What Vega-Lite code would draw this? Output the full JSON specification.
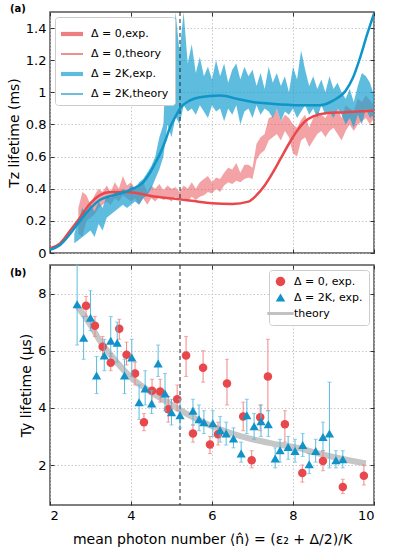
{
"$schema": "https://vega.github.io/schema/vega-lite/v6.json",
"padding": {"left": 6, "top": 2, "right": 4, "bottom": 4},
"background": "white",
"config": {
  "font": "DejaVu Sans",
  "view": {"stroke": "#555555", "strokeWidth": 1.5},
  "axis": {"labelFont": "DejaVu Sans", "labelFontSize": 13, "labelColor": "#000000", "titleFont": "DejaVu Sans", "titleFontSize": 14, "titleFontWeight": "normal", "titleColor": "#000000", "tickColor": "#333333", "tickSize": -4, "tickWidth": 1, "domain": false, "gridColor": "#bbbbbb", "gridDash": [1.5, 2], "gridWidth": 0.8, "labelPadding": 8, "titlePadding": 4},
  "legend": {"labelFont": "DejaVu Sans", "labelFontSize": 11, "labelColor": "#000000"}
},
"datasets": {
  "vline": [{"x": 5.21}],
  "bandR": [
    {"x":2.7,"lo":0.12,"hi":0.28,"s":"Δ = 0,exp."},{"x":2.8,"lo":0.10,"hi":0.38,"s":"Δ = 0,exp."},{"x":2.9,"lo":0.20,"hi":0.36,"s":"Δ = 0,exp."},{"x":3.0,"lo":0.22,"hi":0.30,"s":"Δ = 0,exp."},{"x":3.1,"lo":0.24,"hi":0.36,"s":"Δ = 0,exp."},{"x":3.2,"lo":0.28,"hi":0.40,"s":"Δ = 0,exp."},{"x":3.3,"lo":0.30,"hi":0.38,"s":"Δ = 0,exp."},{"x":3.4,"lo":0.32,"hi":0.42,"s":"Δ = 0,exp."},{"x":3.5,"lo":0.30,"hi":0.38,"s":"Δ = 0,exp."},{"x":3.6,"lo":0.34,"hi":0.44,"s":"Δ = 0,exp."},{"x":3.7,"lo":0.32,"hi":0.40,"s":"Δ = 0,exp."},{"x":3.8,"lo":0.36,"hi":0.48,"s":"Δ = 0,exp."},{"x":3.9,"lo":0.34,"hi":0.42,"s":"Δ = 0,exp."},{"x":4.0,"lo":0.32,"hi":0.44,"s":"Δ = 0,exp."},{"x":4.1,"lo":0.34,"hi":0.40,"s":"Δ = 0,exp."},{"x":4.2,"lo":0.30,"hi":0.42,"s":"Δ = 0,exp."},{"x":4.3,"lo":0.34,"hi":0.44,"s":"Δ = 0,exp."},{"x":4.4,"lo":0.30,"hi":0.38,"s":"Δ = 0,exp."},{"x":4.5,"lo":0.34,"hi":0.42,"s":"Δ = 0,exp."},{"x":4.6,"lo":0.32,"hi":0.40,"s":"Δ = 0,exp."},{"x":4.7,"lo":0.35,"hi":0.43,"s":"Δ = 0,exp."},{"x":4.8,"lo":0.33,"hi":0.39,"s":"Δ = 0,exp."},{"x":4.9,"lo":0.34,"hi":0.42,"s":"Δ = 0,exp."},{"x":5.0,"lo":0.32,"hi":0.40,"s":"Δ = 0,exp."},{"x":5.1,"lo":0.35,"hi":0.41,"s":"Δ = 0,exp."},{"x":5.2,"lo":0.33,"hi":0.38,"s":"Δ = 0,exp."},{"x":5.3,"lo":0.34,"hi":0.42,"s":"Δ = 0,exp."},{"x":5.4,"lo":0.32,"hi":0.40,"s":"Δ = 0,exp."},{"x":5.5,"lo":0.35,"hi":0.44,"s":"Δ = 0,exp."},{"x":5.6,"lo":0.33,"hi":0.40,"s":"Δ = 0,exp."},{"x":5.7,"lo":0.35,"hi":0.44,"s":"Δ = 0,exp."},{"x":5.8,"lo":0.36,"hi":0.46,"s":"Δ = 0,exp."},{"x":5.9,"lo":0.38,"hi":0.48,"s":"Δ = 0,exp."},{"x":6.0,"lo":0.37,"hi":0.44,"s":"Δ = 0,exp."},{"x":6.1,"lo":0.40,"hi":0.47,"s":"Δ = 0,exp."},{"x":6.2,"lo":0.38,"hi":0.46,"s":"Δ = 0,exp."},{"x":6.3,"lo":0.42,"hi":0.50,"s":"Δ = 0,exp."},{"x":6.4,"lo":0.44,"hi":0.53,"s":"Δ = 0,exp."},{"x":6.5,"lo":0.43,"hi":0.52,"s":"Δ = 0,exp."},{"x":6.6,"lo":0.45,"hi":0.56,"s":"Δ = 0,exp."},{"x":6.7,"lo":0.44,"hi":0.50,"s":"Δ = 0,exp."},{"x":6.8,"lo":0.46,"hi":0.55,"s":"Δ = 0,exp."},{"x":6.9,"lo":0.47,"hi":0.55,"s":"Δ = 0,exp."},{"x":7.0,"lo":0.46,"hi":0.53,"s":"Δ = 0,exp."},{"x":7.1,"lo":0.58,"hi":0.68,"s":"Δ = 0,exp."},{"x":7.2,"lo":0.62,"hi":0.72,"s":"Δ = 0,exp."},{"x":7.3,"lo":0.64,"hi":0.74,"s":"Δ = 0,exp."},{"x":7.4,"lo":0.70,"hi":0.84,"s":"Δ = 0,exp."},{"x":7.5,"lo":0.72,"hi":0.85,"s":"Δ = 0,exp."},{"x":7.6,"lo":0.74,"hi":0.90,"s":"Δ = 0,exp."},{"x":7.7,"lo":0.70,"hi":0.82,"s":"Δ = 0,exp."},{"x":7.8,"lo":0.76,"hi":0.86,"s":"Δ = 0,exp."},{"x":7.9,"lo":0.72,"hi":0.84,"s":"Δ = 0,exp."},{"x":8.0,"lo":0.62,"hi":0.80,"s":"Δ = 0,exp."},{"x":8.1,"lo":0.60,"hi":0.78,"s":"Δ = 0,exp."},{"x":8.2,"lo":0.70,"hi":0.83,"s":"Δ = 0,exp."},{"x":8.3,"lo":0.72,"hi":0.86,"s":"Δ = 0,exp."},{"x":8.4,"lo":0.66,"hi":0.78,"s":"Δ = 0,exp."},{"x":8.5,"lo":0.70,"hi":0.84,"s":"Δ = 0,exp."},{"x":8.6,"lo":0.74,"hi":0.88,"s":"Δ = 0,exp."},{"x":8.7,"lo":0.76,"hi":0.86,"s":"Δ = 0,exp."},{"x":8.8,"lo":0.72,"hi":0.84,"s":"Δ = 0,exp."},{"x":8.9,"lo":0.76,"hi":0.88,"s":"Δ = 0,exp."},{"x":9.0,"lo":0.78,"hi":0.86,"s":"Δ = 0,exp."},{"x":9.1,"lo":0.74,"hi":0.90,"s":"Δ = 0,exp."},{"x":9.2,"lo":0.70,"hi":0.84,"s":"Δ = 0,exp."},{"x":9.3,"lo":0.76,"hi":0.92,"s":"Δ = 0,exp."},{"x":9.4,"lo":0.80,"hi":0.90,"s":"Δ = 0,exp."},{"x":9.5,"lo":0.76,"hi":0.88,"s":"Δ = 0,exp."},{"x":9.6,"lo":0.80,"hi":0.96,"s":"Δ = 0,exp."},{"x":9.7,"lo":0.82,"hi":0.94,"s":"Δ = 0,exp."},{"x":9.8,"lo":0.84,"hi":0.98,"s":"Δ = 0,exp."},{"x":9.9,"lo":0.80,"hi":0.95,"s":"Δ = 0,exp."},{"x":10.0,"lo":0.84,"hi":0.92,"s":"Δ = 0,exp."}
  ],
  "bandB": [
    {"x":2.6,"lo":0.06,"hi":0.12,"s":"Δ = 2K,exp."},{"x":2.7,"lo":0.08,"hi":0.20,"s":"Δ = 2K,exp."},{"x":2.8,"lo":0.10,"hi":0.28,"s":"Δ = 2K,exp."},{"x":2.9,"lo":0.12,"hi":0.24,"s":"Δ = 2K,exp."},{"x":3.0,"lo":0.14,"hi":0.30,"s":"Δ = 2K,exp."},{"x":3.1,"lo":0.10,"hi":0.26,"s":"Δ = 2K,exp."},{"x":3.2,"lo":0.18,"hi":0.32,"s":"Δ = 2K,exp."},{"x":3.3,"lo":0.14,"hi":0.28,"s":"Δ = 2K,exp."},{"x":3.4,"lo":0.22,"hi":0.36,"s":"Δ = 2K,exp."},{"x":3.5,"lo":0.24,"hi":0.34,"s":"Δ = 2K,exp."},{"x":3.6,"lo":0.26,"hi":0.38,"s":"Δ = 2K,exp."},{"x":3.7,"lo":0.28,"hi":0.36,"s":"Δ = 2K,exp."},{"x":3.8,"lo":0.30,"hi":0.40,"s":"Δ = 2K,exp."},{"x":3.9,"lo":0.28,"hi":0.38,"s":"Δ = 2K,exp."},{"x":4.0,"lo":0.30,"hi":0.42,"s":"Δ = 2K,exp."},{"x":4.1,"lo":0.32,"hi":0.40,"s":"Δ = 2K,exp."},{"x":4.2,"lo":0.30,"hi":0.44,"s":"Δ = 2K,exp."},{"x":4.3,"lo":0.34,"hi":0.46,"s":"Δ = 2K,exp."},{"x":4.4,"lo":0.36,"hi":0.50,"s":"Δ = 2K,exp."},{"x":4.5,"lo":0.40,"hi":0.54,"s":"Δ = 2K,exp."},{"x":4.6,"lo":0.46,"hi":0.60,"s":"Δ = 2K,exp."},{"x":4.7,"lo":0.52,"hi":0.72,"s":"Δ = 2K,exp."},{"x":4.8,"lo":0.60,"hi":0.80,"s":"Δ = 2K,exp."},{"x":4.9,"lo":0.80,"hi":1.40,"s":"Δ = 2K,exp."},{"x":5.0,"lo":0.72,"hi":1.10,"s":"Δ = 2K,exp."},{"x":5.1,"lo":0.85,"hi":1.50,"s":"Δ = 2K,exp."},{"x":5.2,"lo":0.80,"hi":1.25,"s":"Δ = 2K,exp."},{"x":5.3,"lo":0.92,"hi":1.50,"s":"Δ = 2K,exp."},{"x":5.4,"lo":0.88,"hi":1.18,"s":"Δ = 2K,exp."},{"x":5.5,"lo":0.90,"hi":1.30,"s":"Δ = 2K,exp."},{"x":5.6,"lo":0.86,"hi":1.12,"s":"Δ = 2K,exp."},{"x":5.7,"lo":0.92,"hi":1.22,"s":"Δ = 2K,exp."},{"x":5.8,"lo":0.88,"hi":1.10,"s":"Δ = 2K,exp."},{"x":5.9,"lo":0.84,"hi":1.16,"s":"Δ = 2K,exp."},{"x":6.0,"lo":0.92,"hi":1.08,"s":"Δ = 2K,exp."},{"x":6.1,"lo":0.88,"hi":1.20,"s":"Δ = 2K,exp."},{"x":6.2,"lo":0.90,"hi":1.10,"s":"Δ = 2K,exp."},{"x":6.3,"lo":0.82,"hi":1.18,"s":"Δ = 2K,exp."},{"x":6.4,"lo":0.90,"hi":1.06,"s":"Δ = 2K,exp."},{"x":6.5,"lo":0.86,"hi":1.14,"s":"Δ = 2K,exp."},{"x":6.6,"lo":0.92,"hi":1.18,"s":"Δ = 2K,exp."},{"x":6.7,"lo":0.80,"hi":1.08,"s":"Δ = 2K,exp."},{"x":6.8,"lo":0.88,"hi":1.16,"s":"Δ = 2K,exp."},{"x":6.9,"lo":0.90,"hi":1.10,"s":"Δ = 2K,exp."},{"x":7.0,"lo":0.84,"hi":1.14,"s":"Δ = 2K,exp."},{"x":7.1,"lo":0.92,"hi":1.04,"s":"Δ = 2K,exp."},{"x":7.2,"lo":0.86,"hi":1.12,"s":"Δ = 2K,exp."},{"x":7.3,"lo":0.90,"hi":1.02,"s":"Δ = 2K,exp."},{"x":7.4,"lo":0.88,"hi":1.16,"s":"Δ = 2K,exp."},{"x":7.5,"lo":0.84,"hi":1.06,"s":"Δ = 2K,exp."},{"x":7.6,"lo":0.90,"hi":1.12,"s":"Δ = 2K,exp."},{"x":7.7,"lo":0.82,"hi":1.04,"s":"Δ = 2K,exp."},{"x":7.8,"lo":0.88,"hi":1.10,"s":"Δ = 2K,exp."},{"x":7.9,"lo":0.86,"hi":1.00,"s":"Δ = 2K,exp."},{"x":8.0,"lo":0.90,"hi":1.16,"s":"Δ = 2K,exp."},{"x":8.1,"lo":0.84,"hi":1.08,"s":"Δ = 2K,exp."},{"x":8.2,"lo":0.88,"hi":1.26,"s":"Δ = 2K,exp."},{"x":8.3,"lo":0.92,"hi":1.14,"s":"Δ = 2K,exp."},{"x":8.4,"lo":0.86,"hi":1.04,"s":"Δ = 2K,exp."},{"x":8.5,"lo":0.90,"hi":1.10,"s":"Δ = 2K,exp."},{"x":8.6,"lo":0.84,"hi":1.02,"s":"Δ = 2K,exp."},{"x":8.7,"lo":0.92,"hi":1.08,"s":"Δ = 2K,exp."},{"x":8.8,"lo":0.86,"hi":1.00,"s":"Δ = 2K,exp."},{"x":8.9,"lo":0.88,"hi":1.10,"s":"Δ = 2K,exp."},{"x":9.0,"lo":0.84,"hi":1.02,"s":"Δ = 2K,exp."},{"x":9.1,"lo":0.90,"hi":1.06,"s":"Δ = 2K,exp."},{"x":9.2,"lo":0.86,"hi":1.00,"s":"Δ = 2K,exp."},{"x":9.3,"lo":0.80,"hi":0.96,"s":"Δ = 2K,exp."},{"x":9.4,"lo":0.84,"hi":1.02,"s":"Δ = 2K,exp."},{"x":9.5,"lo":0.78,"hi":0.94,"s":"Δ = 2K,exp."},{"x":9.6,"lo":0.86,"hi":1.04,"s":"Δ = 2K,exp."},{"x":9.7,"lo":0.80,"hi":1.12,"s":"Δ = 2K,exp."},{"x":9.8,"lo":0.90,"hi":1.10,"s":"Δ = 2K,exp."},{"x":9.9,"lo":0.84,"hi":1.06,"s":"Δ = 2K,exp."},{"x":10.0,"lo":0.86,"hi":0.98,"s":"Δ = 2K,exp."}
  ],
  "thTop": [
    {"x":2.0,"y":0.03,"s":"Δ = 0,theory"},{"x":2.25,"y":0.06,"s":"Δ = 0,theory"},{"x":2.5,"y":0.14,"s":"Δ = 0,theory"},{"x":2.74,"y":0.22,"s":"Δ = 0,theory"},{"x":3.0,"y":0.31,"s":"Δ = 0,theory"},{"x":3.23,"y":0.36,"s":"Δ = 0,theory"},{"x":3.5,"y":0.38,"s":"Δ = 0,theory"},{"x":3.9,"y":0.38,"s":"Δ = 0,theory"},{"x":4.2,"y":0.37,"s":"Δ = 0,theory"},{"x":4.5,"y":0.355,"s":"Δ = 0,theory"},{"x":5.0,"y":0.34,"s":"Δ = 0,theory"},{"x":5.5,"y":0.325,"s":"Δ = 0,theory"},{"x":6.0,"y":0.31,"s":"Δ = 0,theory"},{"x":6.5,"y":0.305,"s":"Δ = 0,theory"},{"x":6.9,"y":0.32,"s":"Δ = 0,theory"},{"x":7.1,"y":0.36,"s":"Δ = 0,theory"},{"x":7.3,"y":0.42,"s":"Δ = 0,theory"},{"x":7.5,"y":0.50,"s":"Δ = 0,theory"},{"x":7.7,"y":0.59,"s":"Δ = 0,theory"},{"x":7.9,"y":0.68,"s":"Δ = 0,theory"},{"x":8.1,"y":0.76,"s":"Δ = 0,theory"},{"x":8.3,"y":0.82,"s":"Δ = 0,theory"},{"x":8.5,"y":0.85,"s":"Δ = 0,theory"},{"x":8.8,"y":0.87,"s":"Δ = 0,theory"},{"x":9.2,"y":0.875,"s":"Δ = 0,theory"},{"x":9.6,"y":0.88,"s":"Δ = 0,theory"},{"x":10.0,"y":0.885,"s":"Δ = 0,theory"},
    {"x":2.0,"y":0.02,"s":"Δ = 2K,theory"},{"x":2.25,"y":0.05,"s":"Δ = 2K,theory"},{"x":2.5,"y":0.12,"s":"Δ = 2K,theory"},{"x":2.74,"y":0.20,"s":"Δ = 2K,theory"},{"x":3.0,"y":0.28,"s":"Δ = 2K,theory"},{"x":3.23,"y":0.33,"s":"Δ = 2K,theory"},{"x":3.5,"y":0.355,"s":"Δ = 2K,theory"},{"x":3.73,"y":0.37,"s":"Δ = 2K,theory"},{"x":4.05,"y":0.40,"s":"Δ = 2K,theory"},{"x":4.3,"y":0.44,"s":"Δ = 2K,theory"},{"x":4.47,"y":0.50,"s":"Δ = 2K,theory"},{"x":4.6,"y":0.56,"s":"Δ = 2K,theory"},{"x":4.72,"y":0.62,"s":"Δ = 2K,theory"},{"x":4.85,"y":0.70,"s":"Δ = 2K,theory"},{"x":4.96,"y":0.78,"s":"Δ = 2K,theory"},{"x":5.1,"y":0.85,"s":"Δ = 2K,theory"},{"x":5.21,"y":0.90,"s":"Δ = 2K,theory"},{"x":5.46,"y":0.95,"s":"Δ = 2K,theory"},{"x":5.7,"y":0.97,"s":"Δ = 2K,theory"},{"x":6.2,"y":0.98,"s":"Δ = 2K,theory"},{"x":6.69,"y":0.955,"s":"Δ = 2K,theory"},{"x":7.0,"y":0.94,"s":"Δ = 2K,theory"},{"x":7.43,"y":0.93,"s":"Δ = 2K,theory"},{"x":8.17,"y":0.92,"s":"Δ = 2K,theory"},{"x":8.67,"y":0.92,"s":"Δ = 2K,theory"},{"x":9.0,"y":0.95,"s":"Δ = 2K,theory"},{"x":9.3,"y":1.01,"s":"Δ = 2K,theory"},{"x":9.48,"y":1.09,"s":"Δ = 2K,theory"},{"x":9.65,"y":1.21,"s":"Δ = 2K,theory"},{"x":9.83,"y":1.36,"s":"Δ = 2K,theory"},{"x":10.0,"y":1.49,"s":"Δ = 2K,theory"}
  ],
  "thBot": [
    {"x":2.67,"y":7.57,"s":"theory"},{"x":3.0,"y":6.9,"s":"theory"},{"x":3.23,"y":6.35,"s":"theory"},{"x":3.5,"y":5.85,"s":"theory"},{"x":4.05,"y":5.0,"s":"theory"},{"x":4.5,"y":4.55,"s":"theory"},{"x":4.9,"y":4.2,"s":"theory"},{"x":5.3,"y":3.85,"s":"theory"},{"x":5.7,"y":3.55,"s":"theory"},{"x":6.5,"y":3.1,"s":"theory"},{"x":7.0,"y":2.9,"s":"theory"},{"x":7.5,"y":2.75,"s":"theory"},{"x":8.17,"y":2.58,"s":"theory"},{"x":8.5,"y":2.45,"s":"theory"},{"x":9.0,"y":2.28,"s":"theory"},{"x":9.5,"y":2.13,"s":"theory"},{"x":9.8,"y":2.05,"s":"theory"}
  ],
  "ptsR": [
    {"x":2.89,"y":7.57,"lo":7.2,"hi":7.9,"s":"Δ = 0, exp."},{"x":3.11,"y":6.87,"lo":6.5,"hi":7.2,"s":"Δ = 0, exp."},{"x":3.30,"y":6.14,"lo":5.8,"hi":6.5,"s":"Δ = 0, exp."},{"x":3.50,"y":5.58,"lo":5.3,"hi":5.9,"s":"Δ = 0, exp."},{"x":3.71,"y":6.77,"lo":6.4,"hi":7.1,"s":"Δ = 0, exp."},{"x":3.89,"y":5.86,"lo":5.5,"hi":6.3,"s":"Δ = 0, exp."},{"x":4.10,"y":5.20,"lo":4.8,"hi":5.6,"s":"Δ = 0, exp."},{"x":4.32,"y":3.50,"lo":3.2,"hi":3.8,"s":"Δ = 0, exp."},{"x":4.52,"y":4.60,"lo":4.2,"hi":5.0,"s":"Δ = 0, exp."},{"x":4.72,"y":4.57,"lo":4.2,"hi":5.0,"s":"Δ = 0, exp."},{"x":4.92,"y":3.95,"lo":3.5,"hi":4.4,"s":"Δ = 0, exp."},{"x":5.14,"y":4.30,"lo":3.9,"hi":4.8,"s":"Δ = 0, exp."},{"x":5.36,"y":5.83,"lo":5.1,"hi":6.5,"s":"Δ = 0, exp."},{"x":5.53,"y":3.10,"lo":2.8,"hi":3.4,"s":"Δ = 0, exp."},{"x":5.78,"y":5.40,"lo":4.9,"hi":6.0,"s":"Δ = 0, exp."},{"x":5.95,"y":2.72,"lo":2.4,"hi":3.0,"s":"Δ = 0, exp."},{"x":6.15,"y":3.08,"lo":2.7,"hi":3.5,"s":"Δ = 0, exp."},{"x":6.37,"y":4.85,"lo":4.1,"hi":5.7,"s":"Δ = 0, exp."},{"x":6.77,"y":3.70,"lo":3.2,"hi":4.2,"s":"Δ = 0, exp."},{"x":6.98,"y":2.17,"lo":1.9,"hi":2.5,"s":"Δ = 0, exp."},{"x":7.19,"y":3.67,"lo":3.2,"hi":4.1,"s":"Δ = 0, exp."},{"x":7.38,"y":5.10,"lo":3.9,"hi":6.4,"s":"Δ = 0, exp."},{"x":7.80,"y":3.43,"lo":2.8,"hi":3.9,"s":"Δ = 0, exp."},{"x":8.23,"y":1.72,"lo":1.4,"hi":2.0,"s":"Δ = 0, exp."},{"x":8.74,"y":2.14,"lo":1.8,"hi":2.5,"s":"Δ = 0, exp."},{"x":9.23,"y":1.23,"lo":1.0,"hi":1.5,"s":"Δ = 0, exp."},{"x":9.75,"y":1.62,"lo":1.3,"hi":2.0,"s":"Δ = 0, exp."}
  ],
  "ptsB": [
    {"x":2.67,"y":7.63,"lo":6.2,"hi":9.0,"s":"Δ = 2K, exp."},{"x":2.83,"y":6.45,"lo":5.7,"hi":7.2,"s":"Δ = 2K, exp."},{"x":3.00,"y":7.15,"lo":6.7,"hi":8.1,"s":"Δ = 2K, exp."},{"x":3.15,"y":5.13,"lo":4.5,"hi":5.8,"s":"Δ = 2K, exp."},{"x":3.34,"y":5.83,"lo":5.3,"hi":6.4,"s":"Δ = 2K, exp."},{"x":3.50,"y":6.35,"lo":5.8,"hi":7.2,"s":"Δ = 2K, exp."},{"x":3.66,"y":6.28,"lo":5.6,"hi":7.0,"s":"Δ = 2K, exp."},{"x":3.84,"y":5.13,"lo":4.5,"hi":5.7,"s":"Δ = 2K, exp."},{"x":4.02,"y":5.76,"lo":5.1,"hi":6.4,"s":"Δ = 2K, exp."},{"x":4.20,"y":4.20,"lo":3.6,"hi":4.8,"s":"Δ = 2K, exp."},{"x":4.35,"y":4.68,"lo":4.1,"hi":5.3,"s":"Δ = 2K, exp."},{"x":4.51,"y":4.15,"lo":3.8,"hi":4.6,"s":"Δ = 2K, exp."},{"x":4.67,"y":5.55,"lo":5.1,"hi":6.2,"s":"Δ = 2K, exp."},{"x":4.84,"y":4.50,"lo":3.9,"hi":5.2,"s":"Δ = 2K, exp."},{"x":5.00,"y":3.85,"lo":3.4,"hi":4.3,"s":"Δ = 2K, exp."},{"x":5.21,"y":3.74,"lo":3.3,"hi":4.3,"s":"Δ = 2K, exp."},{"x":5.53,"y":3.90,"lo":3.4,"hi":4.3,"s":"Δ = 2K, exp."},{"x":5.68,"y":3.60,"lo":3.2,"hi":4.1,"s":"Δ = 2K, exp."},{"x":5.80,"y":3.50,"lo":3.1,"hi":3.9,"s":"Δ = 2K, exp."},{"x":6.02,"y":3.46,"lo":3.0,"hi":3.9,"s":"Δ = 2K, exp."},{"x":6.20,"y":3.22,"lo":2.8,"hi":3.7,"s":"Δ = 2K, exp."},{"x":6.35,"y":3.10,"lo":2.7,"hi":3.5,"s":"Δ = 2K, exp."},{"x":6.53,"y":2.93,"lo":2.6,"hi":3.3,"s":"Δ = 2K, exp."},{"x":6.72,"y":2.40,"lo":2.1,"hi":2.8,"s":"Δ = 2K, exp."},{"x":6.86,"y":3.74,"lo":3.1,"hi":4.3,"s":"Δ = 2K, exp."},{"x":7.04,"y":3.36,"lo":2.9,"hi":3.8,"s":"Δ = 2K, exp."},{"x":7.21,"y":3.53,"lo":3.0,"hi":4.1,"s":"Δ = 2K, exp."},{"x":7.39,"y":3.43,"lo":3.0,"hi":3.9,"s":"Δ = 2K, exp."},{"x":7.56,"y":2.23,"lo":1.9,"hi":2.6,"s":"Δ = 2K, exp."},{"x":7.68,"y":2.52,"lo":2.1,"hi":2.9,"s":"Δ = 2K, exp."},{"x":7.88,"y":2.63,"lo":2.2,"hi":3.0,"s":"Δ = 2K, exp."},{"x":8.05,"y":2.49,"lo":2.1,"hi":2.9,"s":"Δ = 2K, exp."},{"x":8.24,"y":2.70,"lo":2.3,"hi":3.1,"s":"Δ = 2K, exp."},{"x":8.40,"y":2.03,"lo":1.7,"hi":2.4,"s":"Δ = 2K, exp."},{"x":8.56,"y":2.49,"lo":2.1,"hi":2.9,"s":"Δ = 2K, exp."},{"x":8.74,"y":2.98,"lo":2.5,"hi":3.5,"s":"Δ = 2K, exp."},{"x":8.90,"y":3.10,"lo":1.9,"hi":4.9,"s":"Δ = 2K, exp."},{"x":9.06,"y":2.17,"lo":1.9,"hi":2.5,"s":"Δ = 2K, exp."},{"x":9.23,"y":2.20,"lo":1.9,"hi":2.5,"s":"Δ = 2K, exp."}
  ]
},
"spacing": 2,
"resolve": {"scale": {"x": "independent", "y": "independent", "color": "independent"}, "legend": {"color": "independent"}},
"vconcat": [
  {
    "width": 324, "height": 241,
    "title": {"text": "(a)", "anchor": "start", "frame": "group", "dx": -40, "offset": -2, "fontSize": 10, "fontWeight": "bold", "font": "DejaVu Sans"},
    "layer": [
      {"data": {"name": "bandR"}, "mark": {"type": "area", "opacity": 0.5, "clip": true},
       "encoding": {
         "x": {"field": "x", "type": "quantitative", "scale": {"domain": [2, 10], "nice": false, "zero": false}, "axis": {"orient": "bottom", "values": [2, 4, 6, 8, 10], "labels": false, "title": null, "grid": true}},
         "y": {"field": "lo", "type": "quantitative", "scale": {"domain": [0, 1.5], "nice": false}, "axis": {"orient": "left", "values": [0, 0.2, 0.4, 0.6, 0.8, 1, 1.2, 1.4], "format": "~g", "title": "Tz lifetime (ms)", "grid": true}},
         "y2": {"field": "hi"},
         "color": {"field": "s", "type": "nominal",
           "scale": {"domain": ["Δ = 0,exp.", "Δ = 0,theory", "Δ = 2K,exp.", "Δ = 2K,theory"], "range": ["#e8474c", "#e8474c", "#1aa0d0", "#0f95c8"]},
           "legend": {"title": null, "orient": "top-left", "offset": 5, "padding": 6, "fillColor": "white", "strokeColor": "#cccccc", "cornerRadius": 3, "symbolSize": 484, "rowPadding": 4, "labelOffset": 8,
             "symbolType": {"expr": "indexof(datum.value, 'theory') >= 0 ? 'M-1,-0.08H1V0.08H-1Z' : 'M-1,-0.19H1V0.19H-1Z'"},
             "symbolOpacity": {"expr": "datum.value == 'Δ = 0,exp.' ? 0.5 : datum.value == 'Δ = 2K,exp.' ? 0.7 : 1"},
             "symbolStrokeWidth": 0}}
       }},
      {"data": {"name": "bandB"}, "mark": {"type": "area", "opacity": 0.7, "clip": true},
       "encoding": {
         "x": {"field": "x", "type": "quantitative", "axis": null},
         "y": {"field": "lo", "type": "quantitative", "axis": {"orient": "right", "values": [0, 0.2, 0.4, 0.6, 0.8, 1, 1.2, 1.4], "labels": false, "title": null, "grid": false}},
         "y2": {"field": "hi"},
         "color": {"field": "s", "type": "nominal"}
       }},
      {"data": {"name": "vline"}, "mark": {"type": "rule", "strokeDash": [4, 3], "color": "#222222", "strokeWidth": 1},
       "encoding": {"x": {"field": "x", "type": "quantitative", "axis": {"orient": "top", "values": [2, 4, 6, 8, 10], "labels": false, "title": null, "grid": false}}}},
      {"data": {"name": "thTop"}, "mark": {"type": "line", "strokeWidth": 2.5, "clip": true, "interpolate": "monotone"},
       "encoding": {
         "x": {"field": "x", "type": "quantitative", "axis": null},
         "y": {"field": "y", "type": "quantitative", "axis": null},
         "color": {"field": "s", "type": "nominal"}
       }}
    ]
  },
  {
    "width": 324, "height": 240,
    "title": {"text": "(b)", "anchor": "start", "frame": "group", "dx": -40, "offset": -13, "fontSize": 10, "fontWeight": "bold", "font": "DejaVu Sans"},
    "layer": [
      {"data": {"name": "thBot"}, "mark": {"type": "line", "strokeWidth": 6, "opacity": 0.9, "interpolate": "monotone"},
       "encoding": {
         "x": {"field": "x", "type": "quantitative", "scale": {"domain": [2, 10], "nice": false, "zero": false}, "axis": {"orient": "bottom", "values": [2, 4, 6, 8, 10], "title": "mean photon number ⟨n̂⟩ = (ε₂ + Δ/2)/K", "grid": true, "titlePadding": 10}},
         "y": {"field": "y", "type": "quantitative", "scale": {"domain": [0.6, 9], "nice": false, "zero": false}, "axis": {"orient": "left", "values": [2, 4, 6, 8], "title": "Ty lifetime (μs)", "grid": true}},
         "color": {"field": "s", "type": "nominal",
           "scale": {"domain": ["Δ = 0, exp.", "Δ = 2K, exp.", "theory"], "range": ["#e8474c", "#1192c8", "#c0c0c0"]},
           "legend": {"title": null, "orient": "top-right", "offset": 5, "padding": 6, "fillColor": "white", "strokeColor": "#cccccc", "cornerRadius": 3, "rowPadding": 4, "labelOffset": 8,
             "symbolType": {"expr": "datum.value == 'theory' ? 'M-1,-0.11H1V0.11H-1Z' : datum.value == 'Δ = 0, exp.' ? 'circle' : 'triangle-up'"},
             "symbolSize": {"expr": "datum.value == 'theory' ? 700 : 90"},
             "symbolOpacity": 1,
             "symbolStrokeWidth": 0}}
       }},
      {"data": {"name": "vline"}, "mark": {"type": "rule", "strokeDash": [4, 3], "color": "#222222", "strokeWidth": 1},
       "encoding": {"x": {"field": "x", "type": "quantitative", "axis": {"orient": "top", "values": [2, 4, 6, 8, 10], "labels": false, "title": null, "grid": false}}}},
      {"data": {"name": "ptsR"}, "mark": {"type": "errorbar", "ticks": {"size": 4}, "color": "#f08585", "thickness": 1},
       "encoding": {"x": {"field": "x", "type": "quantitative", "axis": null}, "y": {"field": "lo", "type": "quantitative", "axis": null}, "y2": {"field": "hi"}}},
      {"data": {"name": "ptsR"}, "mark": {"type": "point", "filled": true, "shape": "circle", "size": 72, "opacity": 1},
       "encoding": {"x": {"field": "x", "type": "quantitative", "axis": null}, "y": {"field": "y", "type": "quantitative", "axis": {"orient": "right", "values": [2, 4, 6, 8], "labels": false, "title": null, "grid": false}}, "color": {"field": "s", "type": "nominal"}}},
      {"data": {"name": "ptsB"}, "mark": {"type": "errorbar", "ticks": {"size": 4}, "color": "#5bbcde", "thickness": 1},
       "encoding": {"x": {"field": "x", "type": "quantitative", "axis": null}, "y": {"field": "lo", "type": "quantitative", "axis": null}, "y2": {"field": "hi"}}},
      {"data": {"name": "ptsB"}, "mark": {"type": "point", "filled": true, "shape": "triangle-up", "size": 85, "opacity": 1},
       "encoding": {"x": {"field": "x", "type": "quantitative", "axis": null}, "y": {"field": "y", "type": "quantitative", "axis": null}, "color": {"field": "s", "type": "nominal"}}}
    ]
  }
]
}
